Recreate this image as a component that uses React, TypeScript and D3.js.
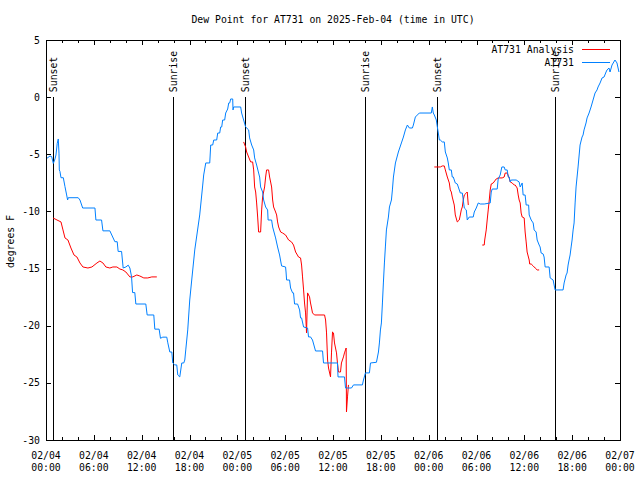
import React from "react";
import * as d3 from "d3";

// Time origin: 2025-02-04 00:00 UTC; times below are hours after it.
const START_UTC = Date.UTC(2025, 1, 4, 0, 0);
const END_HOURS = 72;

const TITLE = "Dew Point for AT731 on 2025-Feb-04 (time in UTC)";
const Y_LABEL = "degrees F";
const SERIES_NAMES = ["AT731 Analysis", "AT731"];
const Y_TICKS = [-30, -25, -20, -15, -10, -5, 0, 5];

// AT731 station observations
const stationHours = [
  0, 0.5, 0.71, 0.92, 1.13, 1.25, 1.41, 1.54, 1.63, 1.67, 1.75, 1.88, 2.17, 2.38, 2.59, 2.71, 2.79,
  4.04, 4.26, 4.6, 6.14, 6.26, 6.97, 7.14, 8.01, 8.64, 8.93, 9.05, 9.48, 9.68, 10.02, 10.31, 10.52,
  10.73, 10.86, 11.14, 11.27, 12.52, 12.69, 13.52, 13.65, 14.19, 14.36, 14.65, 15.15, 15.28, 15.53,
  15.78, 15.9, 16.15, 16.4, 16.53, 16.78, 17.03, 17.28, 17.41, 17.53, 17.78, 18.03, 18.28, 18.66,
  19.28, 19.66, 19.78, 20.04, 20.54, 20.66, 20.91, 21.04, 21.41, 21.54, 21.79, 21.91, 22.04, 22.16,
  22.41, 22.54, 22.79, 22.92, 23.04, 23.17, 23.42, 23.46, 23.54, 24.42, 24.54, 24.79, 25.04, 25.42,
  25.54, 25.8, 26.05, 26.17, 26.42, 26.67, 26.8, 26.92, 27.17, 27.3, 27.55, 27.8, 27.86, 28.3, 28.43,
  28.8, 29.05, 29.3, 29.55, 30.05, 30.11, 30.18, 30.55, 30.68, 30.93, 31.05, 31.18, 31.56, 31.81,
  31.93, 32.06, 32.31, 32.81, 32.93, 33.18, 33.43, 33.81, 34.69, 34.81, 36.56, 36.63, 37.44, 37.57,
  38.32, 38.57, 39.69, 39.82, 40.07, 40.57, 40.7, 41.45, 41.7, 41.82, 41.95, 42.07, 42.2, 42.32,
  42.45, 42.57, 42.7, 42.95, 43.08, 43.33, 43.45, 43.58, 43.83, 44.2, 44.58, 44.83, 45.08, 45.33,
  45.58, 45.96, 46.08, 46.33, 46.83, 48.33, 48.46, 48.58, 48.71, 48.96, 49.09, 49.21, 49.34, 49.46,
  49.71, 49.96, 50.09, 50.34, 50.46, 50.59, 50.84, 50.96, 51.09, 51.34, 51.59, 51.97, 52.22, 52.34,
  52.47, 52.72, 52.84, 53.09, 53.59, 53.72, 53.97, 54.22, 54.47, 54.97, 55.72, 55.85, 55.97, 56.6,
  56.72, 56.97, 57.18, 57.47, 57.6, 57.85, 57.98, 58.1, 58.23, 58.35, 58.98, 59.35, 59.48, 59.73,
  59.85, 60.1, 60.23, 60.54, 60.61, 60.86, 61.11, 61.23, 61.48, 61.61, 61.86, 61.98, 62.11, 62.36,
  62.48, 62.61, 63.11, 63.24, 63.61, 63.86, 64.86, 64.99, 65.24, 65.36, 65.49, 65.61, 65.74, 65.87,
  65.99, 66.12, 66.24, 66.37, 66.49, 66.74, 66.99, 67.24, 67.37, 67.49, 67.74, 67.87, 68.12, 68.37,
  68.62, 68.87, 69.12, 69.25, 69.5, 69.75, 70.0, 70.25, 70.37, 70.62, 70.75, 71.0, 71.37, 71.62, 71.87,
];
const stationDew = [
  -5.41, -5.15, -5.2, -5.8, -5.4, -5.06, -4.04, -3.66, -4.9, -6.37, -6.5, -7.05, -7.05, -7.83, -8.56, -9.0, -8.8,
  -8.8, -9.0, -9.7, -9.7, -10.75, -10.75, -11.7, -11.7, -12.65, -12.65, -13.5, -13.5, -14.95, -14.86, -14.7, -14.95,
  -15.7, -17.1, -17.1, -18.1, -18.1, -19.06, -19.06, -20.3, -20.3, -21.1, -21.0, -21.0, -21.5, -22.3,
  -22.3, -23.26, -23.43, -23.43, -24.31, -24.48, -23.26, -23.26, -23.0, -22.12, -20.37, -17.75, -16.0, -13.37,
  -10.31, -7.69, -6.81, -5.76, -5.76, -4.19, -4.19, -3.75, -3.75, -3.14, -3.14, -2.61, -2.61, -2.0,
  -2.0, -1.39, -1.04, -0.51, -0.51, -0.16, -0.16, -1.12, -0.86, -0.86, -1.39, -2.0, -2.61, -2.87,
  -3.57, -4.19, -4.62, -5.32, -5.94, -6.64, -6.99, -7.86, -8.3, -9.0, -9.61, -9.87, -10.75, -10.75, -11.36,
  -12.32, -13.11, -13.81, -14.77, -14.86, -15.3, -16.0, -16.0, -16.7, -17.13, -17.13, -18.1, -18.1, -18.62,
  -19.32, -19.32, -20.11, -20.2, -20.98, -20.98, -21.25, -22.21, -22.21, -23.26, -23.26, -24.48, -24.48, -25.45,
  -25.45, -25.18, -25.18, -24.75, -24.13, -24.13, -23.26, -23.2, -22.3, -21.51, -20.37, -19.76, -18.01, -16.26,
  -14.51, -13.11, -11.62, -10.49, -9.61, -9.0, -8.12, -6.99, -5.76, -4.8, -4.01, -3.49, -2.87, -2.44,
  -2.7, -2.7, -2.44, -1.74, -1.39, -1.39, -0.86, -1.39, -1.56, -2.0, -2.61, -3.14, -3.75, -3.75,
  -3.92, -3.92, -4.8, -5.32, -5.76, -6.37, -6.37, -6.99, -6.99, -7.51, -7.6, -8.39, -8.39, -9.0,
  -9.7, -9.87, -10.75, -10.49, -10.49, -10.05, -9.7, -9.26, -9.35, -9.35, -9.26, -8.3, -8.04, -8.04,
  -7.16, -6.81, -6.11, -6.11, -6.37, -6.37, -6.99, -6.99, -7.42, -7.25, -7.25, -7.42, -7.86, -7.51,
  -8.56, -8.56, -9.44, -9.44, -10.31, -10.75, -11.01, -11.62, -11.8, -12.5, -12.94, -13.11, -13.64, -13.72,
  -13.99, -14.86, -14.86, -15.82, -16.0, -16.87, -16.87, -16.26, -15.56, -15.39, -14.69, -14.25, -13.81, -13.11,
  -12.5, -11.62, -11.01, -9.26, -7.86, -6.11, -4.19, -3.49, -3.31, -2.87, -2.26, -1.82, -1.39, -0.86,
  -0.25, 0.36, 0.63, 0.89, 1.24, 1.68, 1.76, 2.2, 2.38, 2.55, 2.2, 2.81, 3.25, 2.99, 2.2,
];

// AT731 Analysis (null = gap in the record)
const analysisHours = [
  0.88, 1.38, 1.88, 2.13, 2.38, 2.75, 3.13, 3.51, 3.88, 4.26, 4.63, 5.26, 5.76, 6.39, 6.76, 7.14, 7.51,
  8.01, 8.39, 8.89, 9.27, 9.64, 10.02, 10.52, 10.89, 11.39, 11.77, 12.27, 12.77, 13.27, 13.9,
  20,
  24.79, 25.04, 25.17, 25.42, 25.67, 25.92, 26.05, 26.17, 26.3, 26.42, 26.55, 26.67, 26.92, 27.05, 27.17,
  27.42, 27.55, 27.67, 27.92, 28.05, 28.3, 28.43, 28.55, 28.8, 28.93, 29.05, 29.18, 29.43, 29.68, 30.05,
  30.43, 30.8, 31.05, 31.31, 31.68, 31.93, 32.06, 32.18, 32.31, 32.43, 32.56, 32.68, 32.81, 33.06, 33.18,
  33.31, 33.43, 33.68, 34.94, 35.07, 35.19, 35.32, 35.44, 35.69, 35.81, 35.94, 36.06, 36.19, 36.44, 36.56,
  36.69, 36.94, 37.06, 37.31, 37.44, 37.65, 37.69, 37.82, 37.94,
  44,
  48.71, 49.46, 49.71, 49.96, 50.09, 50.34, 50.59, 50.71, 50.84, 50.96, 51.21, 51.34, 51.59, 51.84, 51.97,
  52.09, 52.22, 52.34, 52.47, 52.72, 52.84, 52.97,
  54,
  54.72, 54.97, 55.03, 55.22, 55.34, 55.47, 55.6, 55.72, 55.85, 56.1, 56.47, 56.72, 57.22, 57.47, 57.6,
  57.85, 58.1, 58.23, 58.48, 58.73, 58.85, 59.1, 59.23, 59.35, 59.48, 59.6, 59.73, 59.98, 60.1, 60.23,
  60.35, 60.61, 60.67, 60.86, 61.11, 61.36, 61.61, 61.86,
];
const analysisDew: (number | null)[] = [
  -10.57, -10.75, -10.92, -11.62, -12.32, -12.5, -13.2, -13.81, -13.99, -14.51, -14.86, -14.95, -14.86, -14.51, -14.34, -14.51, -14.86,
  -14.95, -14.86, -14.86, -15.04, -15.12, -15.3, -15.73, -15.73, -15.56, -15.65, -15.82, -15.82, -15.73, -15.73,
  null,
  -3.92, -4.36, -4.8, -5.24, -5.67, -5.67, -6.37, -7.86, -8.3, -9.26, -10.49, -11.8, -11.8, -9.87, -8.74,
  -7.86, -6.99, -6.37, -6.37, -6.99, -7.86, -9.0, -9.61, -10.05, -10.31, -10.92, -11.36, -11.8, -11.89, -12.06,
  -12.5, -12.67, -12.94, -13.55, -13.99, -14.07, -14.69, -15.73, -16.87, -18.01, -18.88, -20.63, -17.13, -17.48, -18.01,
  -18.45, -18.88, -19.06, -19.06, -19.5, -20.63, -23.0, -23.7, -24.48, -22.38, -20.55, -20.63, -21.51, -22.38, -23.26,
  -24.05, -24.05, -23.26, -22.73, -22.38, -21.95, -27.55, -26.23, -25.18,
  null,
  -6.11, -6.11, -6.02, -6.02, -6.37, -6.99, -7.51, -8.12, -8.3, -8.74, -9.44, -10.31, -10.92, -10.75, -10.31,
  -9.87, -9.61, -9.0, -8.56, -8.39, -8.3, -9.44,
  null,
  -12.94, -12.94, -12.5, -11.62, -10.75, -9.87, -9.0, -8.12, -7.6, -7.51, -7.16, -7.07, -7.07, -6.99, -6.64,
  -6.64, -7.07, -7.42, -7.51, -7.69, -7.69, -7.95, -8.56, -9.0, -9.26, -10.14, -10.49, -10.57, -11.8, -12.67,
  -13.55, -14.25, -14.6, -14.6, -14.77, -14.95, -15.12, -15.12,
];

const sunsetHours = [0.914, 24.96, 49.0];
const sunriseHours = [15.94, 39.98, 63.9];

type Pt = { t: Date; v: number | null };

const FONT = "'DejaVu Sans Mono', monospace";

export default function App() {
  const W = 640;
  const H = 480;
  const L = 46, R = 620, T = 40, B = 440;
  const toDate = (h: number) => new Date(START_UTC + h * 3600e3);

  const x = d3.scaleUtc().domain([toDate(0), toDate(END_HOURS)]).range([L, R]);
  const y = d3.scaleLinear().domain([-30, 5]).range([B, T]);

  const station: Pt[] = stationHours.map((h, i) => ({ t: toDate(h), v: stationDew[i] }));
  const analysis: Pt[] = analysisHours.map((h, i) => ({ t: toDate(h), v: analysisDew[i] }));

  const line = d3
    .line<Pt>()
    .defined((d) => d.v != null)
    .x((d) => x(d.t))
    .y((d) => y(d.v as number));

  const major = x.ticks(d3.utcHour.every(6) as d3.TimeInterval);
  const minor = x
    .ticks(d3.utcHour.every(2) as d3.TimeInterval)
    .filter((d) => d.getUTCHours() % 6 !== 0);
  const fmtDay = d3.utcFormat("%m/%d");
  const fmtTime = d3.utcFormat("%H:%M");

  const px = (v: number) => Math.round(v) + 0.5;

  const markers = [
    ...sunsetHours.map((h) => ({ h, label: "Sunset" })),
    ...sunriseHours.map((h) => ({ h, label: "Sunrise" })),
  ];

  const fs = 9.8;

  return (
    <svg
      width={W}
      height={H}
      viewBox={`0 0 ${W} ${H}`}
      style={{ position: "absolute", left: 0, top: 0, background: "#fff", display: "block" }}
      fontFamily={FONT}
      fontSize={fs}
    >
      <rect x={0} y={0} width={W} height={H} fill="#fff" />

      {/* y ticks */}
      {Y_TICKS.map((v) => (
        <g key={"y" + v}>
          <line x1={L} x2={L + 5} y1={px(y(v))} y2={px(y(v))} stroke="#000" shapeRendering="crispEdges" />
          <line x1={R - 5} x2={R} y1={px(y(v))} y2={px(y(v))} stroke="#000" shapeRendering="crispEdges" />
          <text x={40} y={y(v) + 3.5} textAnchor="end" fill="#000">
            {v}
          </text>
        </g>
      ))}

      {/* x ticks */}
      {major.map((d, i) => (
        <g key={"mx" + i}>
          <line x1={px(x(d))} x2={px(x(d))} y1={B} y2={B - 5} stroke="#000" shapeRendering="crispEdges" />
          <line x1={px(x(d))} x2={px(x(d))} y1={T} y2={T + 5} stroke="#000" shapeRendering="crispEdges" />
          <text x={x(d)} y={458.5} textAnchor="middle" fill="#000">
            {fmtDay(d)}
          </text>
          <text x={x(d)} y={471} textAnchor="middle" fill="#000">
            {fmtTime(d)}
          </text>
        </g>
      ))}
      {minor.map((d, i) => (
        <g key={"mn" + i}>
          <line x1={px(x(d))} x2={px(x(d))} y1={B} y2={B - 3} stroke="#000" shapeRendering="crispEdges" />
          <line x1={px(x(d))} x2={px(x(d))} y1={T} y2={T + 3} stroke="#000" shapeRendering="crispEdges" />
        </g>
      ))}

      {/* sunrise / sunset markers */}
      {markers.map((m, i) => {
        const xx = px(x(toDate(m.h)));
        return (
          <g key={"mk" + i}>
            <line x1={xx} x2={xx} y1={y(0)} y2={B} stroke="#000" shapeRendering="crispEdges" />
            <text
              transform={`translate(${xx + 3.5},${y(0) - 5}) rotate(-90)`}
              textAnchor="start"
              fill="#000"
            >
              {m.label}
            </text>
          </g>
        );
      })}

      {/* data */}
      <path d={line(analysis) || ""} fill="none" stroke="#ff0000" strokeWidth={1} />
      <path d={line(station) || ""} fill="none" stroke="#0080ff" strokeWidth={1} />

      {/* border */}
      <rect x={L + 0.5} y={T + 0.5} width={R - L} height={B - T} fill="none" stroke="#000" shapeRendering="crispEdges" />

      {/* title & labels */}
      <text x={333} y={23} textAnchor="middle" fill="#000">
        {TITLE}
      </text>
      <text transform={`translate(14,241.5) rotate(-90)`} textAnchor="middle" fill="#000">
        {Y_LABEL}
      </text>

      {/* legend */}
      <text x={574} y={53} textAnchor="end" fill="#000">
        {SERIES_NAMES[0]}
      </text>
      <line x1={582} x2={610} y1={49.5} y2={49.5} stroke="#ff0000" shapeRendering="crispEdges" />
      <text x={574} y={66} textAnchor="end" fill="#000">
        {SERIES_NAMES[1]}
      </text>
      <line x1={582} x2={610} y1={62.5} y2={62.5} stroke="#0080ff" shapeRendering="crispEdges" />
    </svg>
  );
}
